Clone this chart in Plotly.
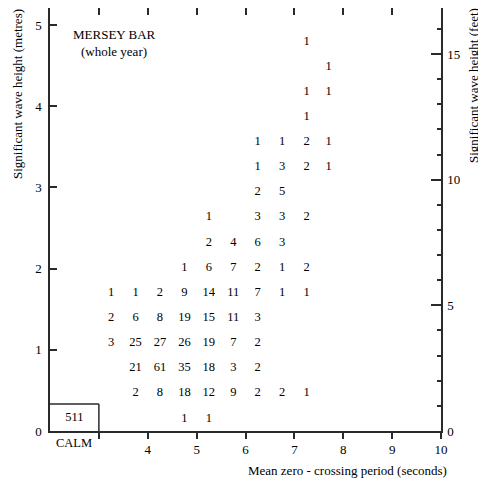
import plotly.graph_objects as go

# Mean zero-crossing period bin centres (seconds)
periods = [3.25, 3.75, 4.25, 4.75, 5.25, 5.75, 6.25, 6.75, 7.25, 7.7]
# Wave height bin centres (feet), one row each
height_ft = [0.5, 1.5, 2.5, 3.5, 4.5, 5.5, 6.5, 7.5, 8.5, 9.5, 10.5, 11.5, 12.5, 13.5, 14.5, 15.5]
# Occurrence counts: rows = height bins (bottom->top), columns = periods (None = empty)
counts = [
    [None, None, None, 1, 1, None, None, None, None, None],
    [None, 2, 8, 18, 12, 9, 2, 2, 1, None],
    [None, 21, 61, 35, 18, 3, 2, None, None, None],
    [3, 25, 27, 26, 19, 7, 2, None, None, None],
    [2, 6, 8, 19, 15, 11, 3, None, None, None],
    [1, 1, 2, 9, 14, 11, 7, 1, 1, None],
    [None, None, None, 1, 6, 7, 2, 1, 2, None],
    [None, None, None, None, 2, 4, 6, 3, None, None],
    [None, None, None, None, 1, None, 3, 3, 2, None],
    [None, None, None, None, None, None, 2, 5, None, None],
    [None, None, None, None, None, None, 1, 3, 2, 1],
    [None, None, None, None, None, None, 1, 1, 2, 1],
    [None, None, None, None, None, None, None, None, 1, None],
    [None, None, None, None, None, None, None, None, 1, 1],
    [None, None, None, None, None, None, None, None, None, 1],
    [None, None, None, None, None, None, None, None, 1, None],
]
calm_count = 511
calm_period = 2.5          # centre of the CALM box (seconds)
calm_height_m = 0.333      # top of the CALM box (metres)
x_ticks = [3, 4, 5, 6, 7, 8, 9, 10]
x_ticklabels = ["", "4", "5", "6", "7", "8", "9", "10"]
x_top_ticks = [3, 4, 5, 6, 7, 8, 9]
y_m_ticks = [0, 1, 2, 3, 4, 5]
y_ft_ticks = [0, 5, 10, 15]

FONT = "Liberation Serif"
LINE = "#2a2a2a"
TXT = dict(family=FONT, size=12.5, color="black")
TITLE = dict(family=FONT, size=13, color="black")

xs, ys, ts = [], [], []
for r, row in enumerate(counts):
    for c, v in enumerate(row):
        if v is not None:
            xs.append(periods[c])
            ys.append(height_ft[r])
            ts.append(str(v))

fig = go.Figure()
# CALM count on the main (metres) subplot
fig.add_trace(go.Scatter(
    x=[calm_period], y=[calm_height_m / 2], text=[str(calm_count)], mode="text",
    textfont=TXT, textposition="middle center", hoverinfo="skip", showlegend=False,
))
# Counts on the feet axis
fig.add_trace(go.Scatter(
    x=xs, y=ys, text=ts, mode="text", xaxis="x", yaxis="y2",
    textfont=TXT, textposition="middle center", hoverinfo="skip", showlegend=False,
))
# invisible trace to activate the top axis
fig.add_trace(go.Scatter(x=[calm_period], y=[calm_height_m / 2], xaxis="x2", yaxis="y",
                         mode="markers", marker=dict(opacity=0), showlegend=False,
                         hoverinfo="skip"))

# plot area in page pixels: x 50..441, y 8..431 (page has an 8px body margin)
W, H = 478, 473
L, R, T, B = 42, 45, 0, 50
PW = W - L - R
PH = H - T - B

def px(xp):
    return (xp - 50) / PW

def py(yp):
    return (431 - yp) / PH

def ann(x, y, text, xref="paper", angle=0, font=TITLE):
    return dict(x=x, y=y, xref=xref, yref="paper", text=text, showarrow=False,
                xanchor="center", yanchor="middle", textangle=angle, font=font)

axis_font = dict(family=FONT, size=13, color="black")
fig.update_layout(
    width=W, height=H,
    margin=dict(l=L, r=R, t=T, b=B, autoexpand=False),
    paper_bgcolor="white", plot_bgcolor="white",
    font=dict(family=FONT, size=12, color="black"),
    xaxis=dict(range=[2, 10], tickvals=x_ticks, ticktext=x_ticklabels,
               ticks="outside", ticklen=6, tickwidth=1.5, tickcolor=LINE,
               showline=True, linecolor=LINE, linewidth=1.5,
               showgrid=False, zeroline=False, tickfont=axis_font),
    xaxis2=dict(range=[2, 10], overlaying="x", side="top", anchor="y", tickvals=x_top_ticks,
                ticks="inside", ticklen=7, tickwidth=1.5, tickcolor=LINE,
                showticklabels=False, showline=True, linecolor=LINE, linewidth=1.5,
                showgrid=False, zeroline=False),
    yaxis=dict(range=[0, 5.209], tickvals=y_m_ticks, ticks="inside", ticklen=7,
               tickwidth=1.5, tickcolor=LINE, showline=True, linecolor=LINE, linewidth=1.5,
               showgrid=False, zeroline=False, tickfont=axis_font, ticklabelstandoff=4),
    yaxis2=dict(range=[0, 16.83], overlaying="y", side="right", anchor="x", tickvals=y_ft_ticks,
                ticks="inside", ticklen=10, tickwidth=1.5, tickcolor=LINE,
                minor=dict(dtick=1, ticks="inside", ticklen=4, tickwidth=1.5, tickcolor=LINE),
                showline=True, linecolor=LINE, linewidth=1.5,
                showgrid=False, zeroline=False, tickfont=axis_font, ticklabelstandoff=2),
    shapes=[
        dict(type="line", xref="x", yref="y", x0=2, x1=3, y0=calm_height_m, y1=calm_height_m,
             line=dict(color=LINE, width=1.5)),
        dict(type="line", xref="x", yref="y", x0=3, x1=3, y0=0, y1=calm_height_m,
             line=dict(color=LINE, width=1.5)),
    ],
    annotations=[
        ann(calm_period, py(443), "CALM", xref="x", font=TXT),
        ann(px(114), py(35), "MERSEY BAR"),
        ann(px(114), py(51.5), "(whole year)"),
        ann(px(18), py(94), "Significant wave height (metres)", angle=-90),
        ann(px(473), py(86), "Significant wave height (feet)", angle=-90),
        ann(px(347), py(470), "Mean zero - crossing period (seconds)"),
    ],
)

fig.write_html("out.html")
